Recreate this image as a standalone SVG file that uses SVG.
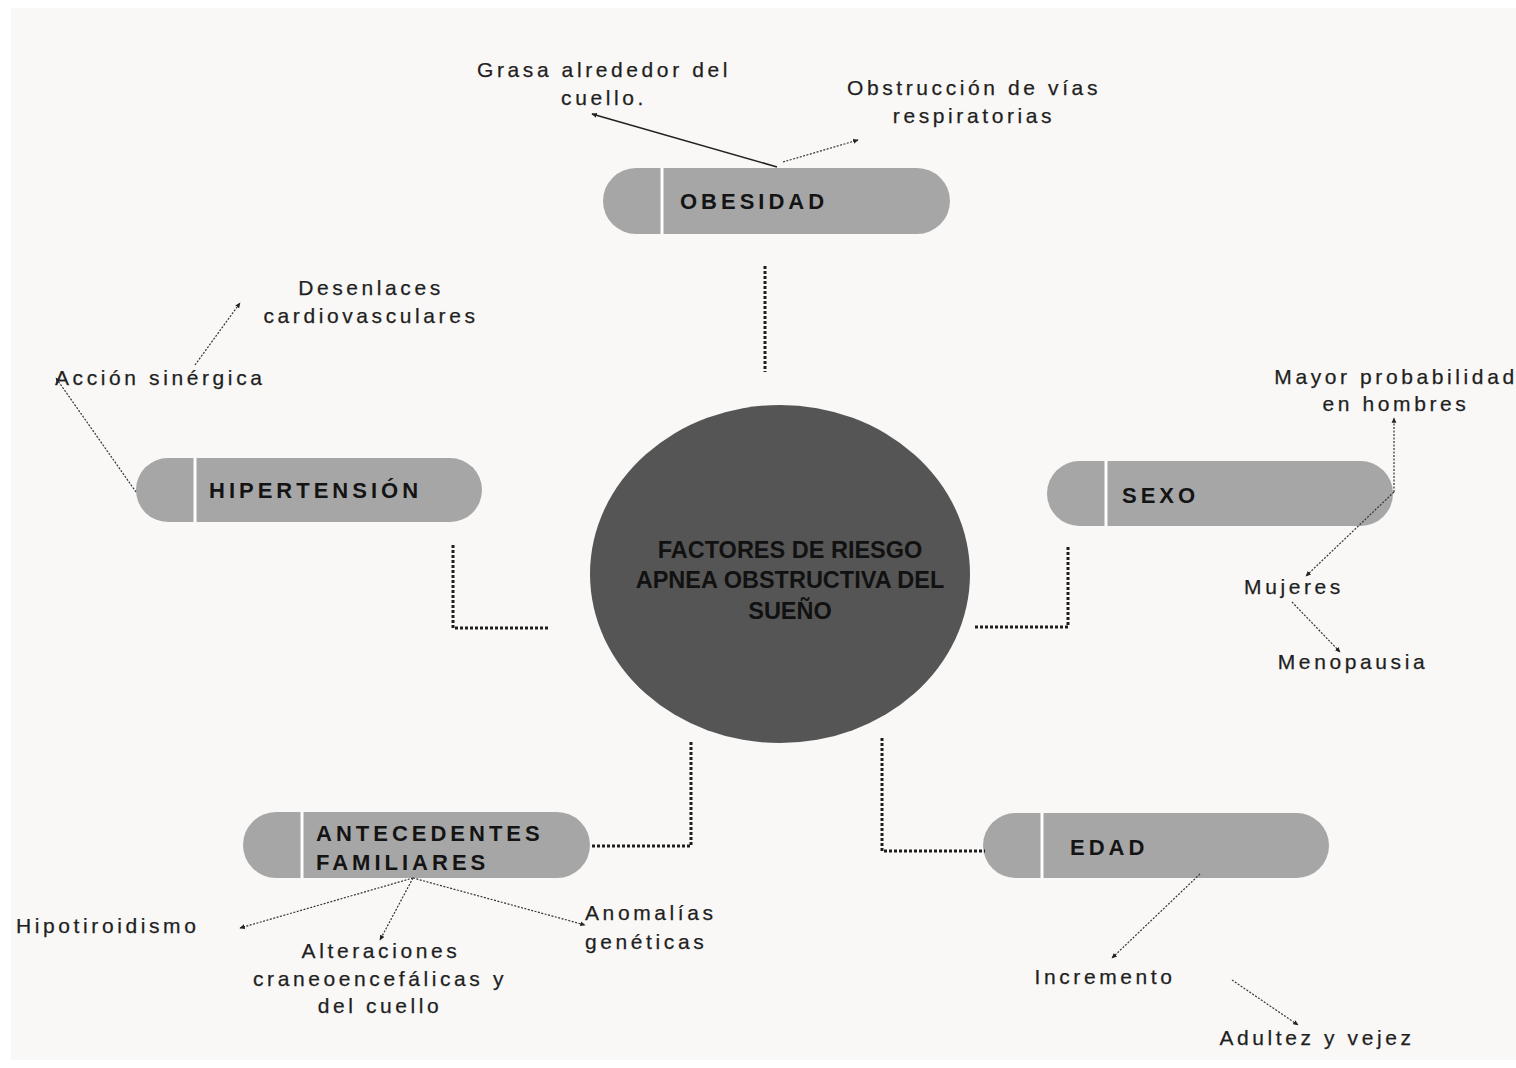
<svg xmlns="http://www.w3.org/2000/svg" width="1516" height="1068" viewBox="0 0 1516 1068">
<defs>
<style>
.lbl{font-family:"Liberation Sans",Arial,sans-serif;font-size:21px;letter-spacing:3.6px;fill:#1f1f1f;stroke:#1f1f1f;stroke-width:0.25;}
.mid{text-anchor:middle;}
.pill{fill:#a6a6a6;}
.sep{stroke:#ffffff;stroke-width:3;}
.pt{font-family:"Liberation Sans",Arial,sans-serif;font-size:22px;font-weight:bold;letter-spacing:4px;fill:#141414;}
.ct{font-family:"Liberation Sans",Arial,sans-serif;font-size:23.5px;font-weight:bold;fill:#111;text-anchor:middle;}
.main{fill:none;stroke:#1e1e1e;stroke-width:3;stroke-dasharray:3 2;}
.thin{fill:none;stroke:#333;stroke-width:1.2;stroke-dasharray:2 1.5;}
.solid{fill:none;stroke:#222;stroke-width:1.6;}
</style>
<marker id="ah" viewBox="0 0 10 10" refX="8" refY="5" markerWidth="6" markerHeight="6" orient="auto" markerUnits="userSpaceOnUse">
<path d="M0,1 L9,5 L0,9 z" fill="#222"/>
</marker>
</defs>
<rect x="0" y="0" width="1516" height="1068" fill="#ffffff"/>
<rect x="11" y="8" width="1505" height="1052" fill="#f9f8f7"/>

<g id="center">
<ellipse cx="780" cy="574" rx="190" ry="169" fill="#555555"/>
<text class="ct" x="790" y="558">FACTORES DE RIESGO</text>
<text class="ct" x="790" y="588">APNEA OBSTRUCTIVA DEL</text>
<text class="ct" x="790" y="619">SUEÑO</text>
</g>

<g id="obesidad">
<rect class="pill" x="603" y="168" width="347" height="66" rx="33"/>
<line class="sep" x1="662" y1="168" x2="662" y2="234"/>
<text class="pt" x="680" y="209">OBESIDAD</text>
<text class="lbl mid" x="604" y="77">Grasa alrededor del</text>
<text class="lbl mid" x="604" y="105">cuello.</text>
<text class="lbl mid" x="974" y="95">Obstrucción de vías</text>
<text class="lbl mid" x="974" y="123">respiratorias</text>
</g>

<g id="hipertension">
<rect class="pill" x="136" y="458" width="346" height="64" rx="32"/>
<line class="sep" x1="195" y1="458" x2="195" y2="522"/>
<text class="pt" x="209" y="498">HIPERTENSIÓN</text>
<text class="lbl mid" x="371" y="295">Desenlaces</text>
<text class="lbl mid" x="371" y="323">cardiovasculares</text>
<text class="lbl" x="55" y="385">Acción sinérgica</text>
</g>

<g id="sexo">
<rect class="pill" x="1047" y="461" width="346" height="65" rx="32.5"/>
<line class="sep" x1="1106" y1="461" x2="1106" y2="526"/>
<text class="pt" x="1122" y="503">SEXO</text>
<text class="lbl mid" x="1396" y="384">Mayor probabilidad</text>
<text class="lbl mid" x="1396" y="411">en hombres</text>
<text class="lbl mid" x="1294" y="594">Mujeres</text>
<text class="lbl mid" x="1353" y="669">Menopausia</text>
</g>

<g id="antecedentes">
<rect class="pill" x="243" y="812" width="347" height="66" rx="33"/>
<line class="sep" x1="302" y1="812" x2="302" y2="878"/>
<text class="pt" x="316" y="841">ANTECEDENTES</text>
<text class="pt" x="316" y="870">FAMILIARES</text>
<text class="lbl" x="16" y="933">Hipotiroidismo</text>
<text class="lbl mid" x="381" y="958">Alteraciones</text>
<text class="lbl mid" x="380" y="986">craneoencefálicas y</text>
<text class="lbl mid" x="380" y="1013">del cuello</text>
<text class="lbl" x="585" y="920">Anomalías</text>
<text class="lbl" x="585" y="949">genéticas</text>
</g>

<g id="edad">
<rect class="pill" x="983" y="813" width="346" height="65" rx="32.5"/>
<line class="sep" x1="1042" y1="813" x2="1042" y2="878"/>
<text class="pt" x="1070" y="855">EDAD</text>
<text class="lbl mid" x="1105" y="984">Incremento</text>
<text class="lbl mid" x="1317" y="1045">Adultez y vejez</text>
</g>

<g id="connectors">
<line class="main" x1="765" y1="266" x2="765" y2="372"/>
<polyline class="main" points="453,545 453,628 548,628"/>
<polyline class="main" points="975,627 1068,627 1068,545"/>
<polyline class="main" points="592,846 691,846 691,740"/>
<polyline class="main" points="882,738 882,851 985,851"/>

<line class="solid" x1="777" y1="167" x2="592" y2="114" marker-end="url(#ah)"/>
<line class="thin" x1="783" y1="162" x2="858" y2="140" marker-end="url(#ah)"/>
<line class="thin" x1="136" y1="492" x2="56" y2="378" marker-end="url(#ah)"/>
<line class="thin" x1="195" y1="365" x2="240" y2="303" marker-end="url(#ah)"/>
<line class="thin" x1="1394" y1="492" x2="1394" y2="418" marker-end="url(#ah)"/>
<line class="thin" x1="1394" y1="492" x2="1306" y2="576" marker-end="url(#ah)"/>
<line class="thin" x1="1292" y1="602" x2="1340" y2="652" marker-end="url(#ah)"/>
<line class="thin" x1="413" y1="878" x2="240" y2="928" marker-end="url(#ah)"/>
<line class="thin" x1="413" y1="878" x2="380" y2="940" marker-end="url(#ah)"/>
<line class="thin" x1="413" y1="878" x2="585" y2="925" marker-end="url(#ah)"/>
<line class="thin" x1="1200" y1="874" x2="1112" y2="958" marker-end="url(#ah)"/>
<line class="thin" x1="1232" y1="980" x2="1298" y2="1025" marker-end="url(#ah)"/>
</g>
</svg>
